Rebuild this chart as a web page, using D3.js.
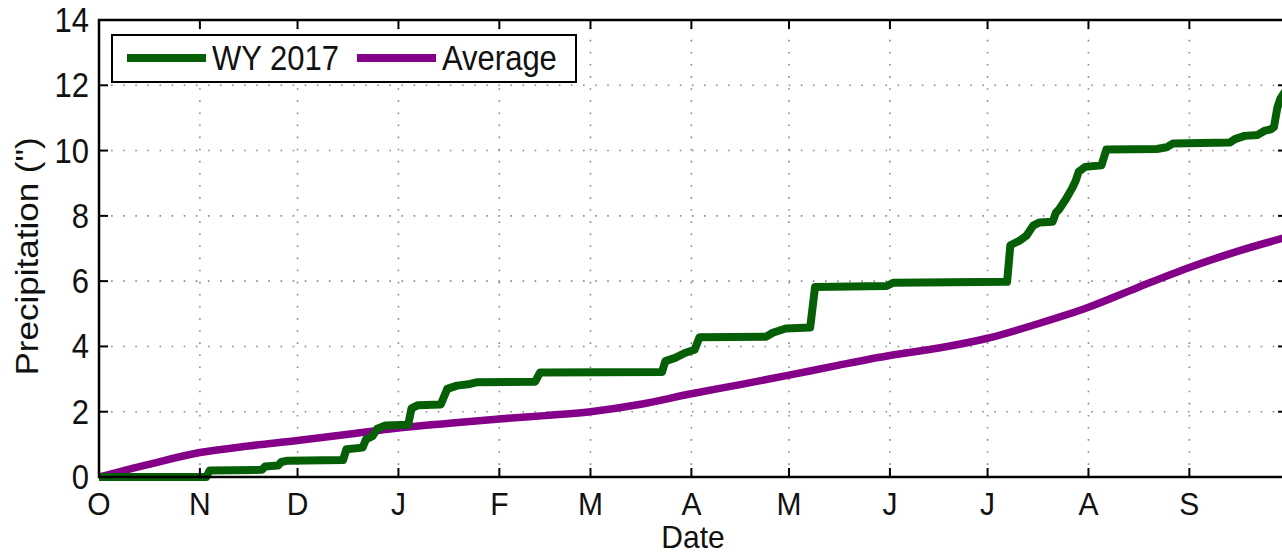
<!DOCTYPE html>
<html>
<head>
<meta charset="utf-8">
<script src="https://cdn.jsdelivr.net/npm/d3@7"></script>
<style>
  body { margin: 0; background: #fff; }
  svg { display: block; font-family: Arial, "Liberation Sans", sans-serif; }
</style>
</head>
<body>
<div id="chart"></div>
<script>
// Cumulative precipitation, water year 2017 vs average
const waterYearStart = '2016-10-01';
const waterYearEnd = '2017-10-01';
const monthLabels = ['O', 'N', 'D', 'J', 'F', 'M', 'A', 'M', 'J', 'J', 'A', 'S'];
const yTickValues = [0, 2, 4, 6, 8, 10, 12, 14];
const seriesNames = ['WY 2017', 'Average'];

// days since Oct 1 / cumulative inches
const wy2017Days = [0, 33, 34, 50, 51, 55, 56, 58, 75, 76, 81, 82, 84, 85.5, 88, 95, 96, 98, 105,
  107, 110, 114, 116, 134, 135.5, 173, 174, 177, 180, 183, 184.5, 205, 207, 211, 218.5, 220,
  242, 244, 279, 280, 283, 285, 287, 289, 293, 294, 295, 297, 299, 300, 301, 303, 308, 309.5,
  325, 328, 330, 347.5, 349, 352, 356, 358, 360, 361, 362, 363, 365];
const wy2017Precip = [0, 0, 0.2, 0.22, 0.32, 0.35, 0.46, 0.5, 0.52, 0.85, 0.9, 1.15, 1.25, 1.48, 1.58, 1.6, 2.1, 2.2, 2.22,
  2.7, 2.8, 2.85, 2.9, 2.92, 3.2, 3.22, 3.55, 3.65, 3.8, 3.9, 4.28, 4.3, 4.42, 4.55, 4.58, 5.82,
  5.85, 5.95, 5.98, 7.1, 7.25, 7.4, 7.7, 7.8, 7.82, 8.1, 8.2, 8.5, 8.85, 9.05, 9.35, 9.5, 9.55, 10.03,
  10.05, 10.1, 10.22, 10.25, 10.35, 10.45, 10.48, 10.6, 10.65, 10.72, 11.3, 11.6, 11.9];

const averageDays = [0, 15, 31, 46, 61, 76, 92, 107, 123, 137, 151, 166, 182, 197, 212, 227,
  243, 258, 273, 288, 304, 319, 335, 350, 365];
const averagePrecip = [0, 0.38, 0.75, 0.95, 1.12, 1.3, 1.5, 1.64, 1.78, 1.88, 2.0, 2.22, 2.55, 2.83, 3.12, 3.42,
  3.72, 3.95, 4.25, 4.68, 5.2, 5.8, 6.42, 6.92, 7.35];

const width = 1282, height = 556;
const margin = { top: 20, right: -5, bottom: 79, left: 99 };
const colors = { wy: '#065f06', avg: '#850088' };
const fontSize = 31;
const stretch = 1.13; // glyphs in the reference are a bit taller than wide

const start = new Date(waterYearStart + 'T00:00:00Z');
const end = new Date(waterYearEnd + 'T00:00:00Z');
const dayToDate = d => new Date(start.getTime() + d * 864e5);

const svg = d3.select('#chart').append('svg')
  .attr('width', width)
  .attr('height', height);

const x = d3.scaleUtc()
  .domain([start, end])
  .range([margin.left, width - margin.right]);

const y = d3.scaleLinear()
  .domain([0, 14])
  .range([height - margin.bottom, margin.top]);

const x0 = x.range()[0], x1 = x.range()[1];
const y0 = y.range()[0], y1 = y.range()[1];
const monthTicks = d3.utcMonth.range(start, end);

// text helper: place at (tx, ty), optionally stretched vertically
function label(parent, tx, ty, str, anchor, sy = stretch, size = fontSize) {
  return parent.append('text')
    .attr('transform', `translate(${tx},${ty}) scale(1,${sy})`)
    .attr('text-anchor', anchor)
    .attr('font-size', size)
    .attr('fill', '#111')
    .text(str);
}

// dotted grid
const grid = svg.append('g')
  .attr('stroke', '#8a8a8a')
  .attr('stroke-width', 1.6)
  .attr('stroke-dasharray', '1.6,10.5');

grid.selectAll('.vgrid')
  .data(monthTicks.slice(1))
  .join('line')
  .attr('x1', d => x(d)).attr('x2', d => x(d))
  .attr('y1', y0).attr('y2', y1);

grid.selectAll('.hgrid')
  .data(yTickValues.slice(1, -1))
  .join('line')
  .attr('x1', x0).attr('x2', x1)
  .attr('y1', d => y(d)).attr('y2', d => y(d));

// lines
const plot = svg.append('g');

const wyData = wy2017Days.map((d, i) => ({ date: dayToDate(d), value: wy2017Precip[i] }));
const avgData = averageDays.map((d, i) => ({ date: dayToDate(d), value: averagePrecip[i] }));

plot.append('path')
  .datum(avgData)
  .attr('fill', 'none')
  .attr('stroke', colors.avg)
  .attr('stroke-width', 7.5)
  .attr('stroke-linejoin', 'round')
  .attr('d', d3.line().x(d => x(d.date)).y(d => y(d.value)).curve(d3.curveMonotoneX));

plot.append('path')
  .datum(wyData)
  .attr('fill', 'none')
  .attr('stroke', colors.wy)
  .attr('stroke-width', 8)
  .attr('stroke-linejoin', 'round')
  .attr('d', d3.line().x(d => x(d.date)).y(d => y(d.value)));

// box and ticks (inward, all four sides)
const frame = svg.append('g').attr('stroke', '#000');
const tickLen = 9;

frame.selectAll('.xt')
  .data(monthTicks.slice(1))
  .join('g')
  .call(g => g.append('line')
    .attr('x1', d => x(d)).attr('x2', d => x(d))
    .attr('y1', y0).attr('y2', y0 - tickLen).attr('stroke-width', 2))
  .call(g => g.append('line')
    .attr('x1', d => x(d)).attr('x2', d => x(d))
    .attr('y1', y1).attr('y2', y1 + tickLen).attr('stroke-width', 2));

frame.selectAll('.yt')
  .data(yTickValues.slice(1, -1))
  .join('g')
  .call(g => g.append('line')
    .attr('x1', x0).attr('x2', x0 + tickLen)
    .attr('y1', d => y(d)).attr('y2', d => y(d)).attr('stroke-width', 2))
  .call(g => g.append('line')
    .attr('x1', x1).attr('x2', x1 - tickLen)
    .attr('y1', d => y(d)).attr('y2', d => y(d)).attr('stroke-width', 2));

frame.append('rect')
  .attr('x', x0).attr('y', y1)
  .attr('width', x1 - x0).attr('height', y0 - y1)
  .attr('fill', 'none')
  .attr('stroke-width', 2.5);

// tick labels
const xLabels = svg.append('g');
monthTicks.forEach((d, i) => label(xLabels, x(d), y0 + 38, monthLabels[i], 'middle', 1.05, 30));

const yLabels = svg.append('g');
yTickValues.forEach(v => label(yLabels, x0 - 10, y(v) + 12, v, 'end'));

// axis titles
label(svg, (x0 + 1287) / 2, 548, 'Date', 'middle', 1.05, 30);
svg.append('text')
  .attr('transform', `translate(38, ${(y0 + y1) / 2 + 8}) rotate(-90) scale(${stretch},1)`)
  .attr('text-anchor', 'middle')
  .attr('font-size', fontSize)
  .attr('fill', '#111')
  .text('Precipitation (")');

// legend
const legend = svg.append('g').attr('transform', 'translate(112, 35)');

legend.append('rect')
  .attr('width', 464)
  .attr('height', 47)
  .attr('fill', '#fff')
  .attr('stroke', '#000')
  .attr('stroke-width', 2);

const legendItems = [
  { name: seriesNames[0], color: colors.wy, x: 15 },
  { name: seriesNames[1], color: colors.avg, x: 245 }
];

legendItems.forEach(item => {
  legend.append('line')
    .attr('x1', item.x).attr('x2', item.x + 79)
    .attr('y1', 23).attr('y2', 23)
    .attr('stroke', item.color)
    .attr('stroke-width', 8);
  label(legend, item.x + 85, 35, item.name, 'start');
});
</script>
</body>
</html>
